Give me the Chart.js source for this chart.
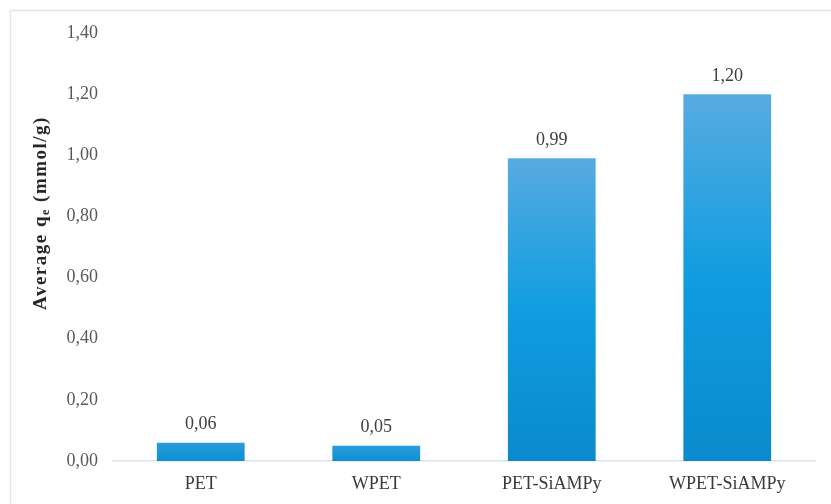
<!DOCTYPE html>
<html>
<head>
<meta charset="utf-8">
<script src="https://cdn.jsdelivr.net/npm/chart.js@4"></script>
<style>
    html, body { margin: 0; padding: 0; background: #fff; }
    #wrap { position: relative; width: 831px; height: 504px; }
</style>
</head>
<body>
<div id="wrap"><canvas id="chart" width="831" height="504"></canvas></div>
<script>
const categories = ['PET', 'WPET', 'PET-SiAMPy', 'WPET-SiAMPy'];
const qeValues = [0.06, 0.05, 0.99, 1.20];
const yTicks = [0, 0.2, 0.4, 0.6, 0.8, 1.0, 1.2, 1.4];

const serif = '"Liberation Serif", "Times New Roman", serif';
const fmt = v => v.toFixed(2).replace('.', ',');

// outer light frame like the original figure box
const framePlugin = {
    id: 'frame',
    beforeDraw(chart) {
        const ctx = chart.ctx;
        ctx.save();
        ctx.strokeStyle = '#e3e7ec';
        ctx.lineWidth = 1.5;
        ctx.strokeRect(10.5, 10.5, chart.width + 20, chart.height + 20);
        ctx.restore();
    }
};

// value labels above each bar + rotated axis title with subscript
const labelsPlugin = {
    id: 'labels',
    afterDatasetsDraw(chart) {
        const ctx = chart.ctx;
        const meta = chart.getDatasetMeta(0);
        ctx.save();
        ctx.font = '18px ' + serif;
        ctx.fillStyle = '#404040';
        ctx.textAlign = 'center';
        ctx.textBaseline = 'bottom';
        meta.data.forEach((bar, i) => {
            ctx.fillText(fmt(qeValues[i]), bar.x, bar.y - 9);
        });

        // y axis title
        ctx.translate(41, 213);
        ctx.rotate(-Math.PI / 2);
        ctx.textBaseline = 'middle';
        ctx.textAlign = 'left';
        ctx.fillStyle = '#262626';
        ctx.letterSpacing = '1.5px';
        const big = 'bold 19px ' + serif;
        const small = 'bold 12px ' + serif;
        const parts = [['Average q', big, 0], ['e', small, 5], [' (mmol/g)', big, 0]];
        let total = 0;
        parts.forEach(p => { ctx.font = p[1]; total += ctx.measureText(p[0]).width; });
        let x = -total / 2;
        parts.forEach(p => {
            ctx.font = p[1];
            ctx.fillText(p[0], x, p[2]);
            x += ctx.measureText(p[0]).width;
        });
        ctx.restore();
    }
};

function barGradient(context) {
    const chart = context.chart;
    if (!chart.chartArea) return '#1596da';
    const yScale = chart.scales.y;
    const top = yScale.getPixelForValue(qeValues[context.dataIndex]);
    const base = yScale.getPixelForValue(0);
    if (base - top < 1) return '#1596da';
    const g = chart.ctx.createLinearGradient(0, top, 0, base);
    if (base - top < 40) {
        g.addColorStop(0, '#2a9ddc');
        g.addColorStop(1, '#0d8fd4');
        return g;
    }
    g.addColorStop(0, '#58abe0');
    g.addColorStop(0.5, '#0f9de0');
    g.addColorStop(1, '#0a8acd');
    return g;
}

new Chart(document.getElementById('chart'), {
    type: 'bar',
    data: {
        labels: categories,
        datasets: [{
            data: qeValues,
            backgroundColor: barGradient,
            borderWidth: 0,
            categoryPercentage: 1,
            barPercentage: 0.5
        }]
    },
    options: {
        responsive: false,
        animation: false,
        layout: { padding: { left: 0, top: 33, right: 16, bottom: 0 } },
        plugins: {
            legend: { display: false },
            tooltip: { enabled: false }
        },
        scales: {
            x: {
                grid: { display: false, drawTicks: false },
                border: { display: true, color: '#d9e2ea', width: 1.5 },
                ticks: {
                    color: '#3a3a3a',
                    font: { family: serif, size: 18 },
                    padding: 12
                },
                afterFit(scale) { scale.height = 43; }
            },
            y: {
                min: 0,
                max: 1.4,
                afterBuildTicks(scale) { scale.ticks = yTicks.map(v => ({ value: v })); },
                grid: { display: false, drawTicks: false },
                border: { display: false },
                ticks: {
                    color: '#595959',
                    font: { family: serif, size: 18 },
                    padding: 15,
                    callback: v => fmt(v)
                },
                afterFit(scale) { scale.width = 113; }
            }
        }
    },
    plugins: [framePlugin, labelsPlugin]
});
</script>
</body>
</html>
